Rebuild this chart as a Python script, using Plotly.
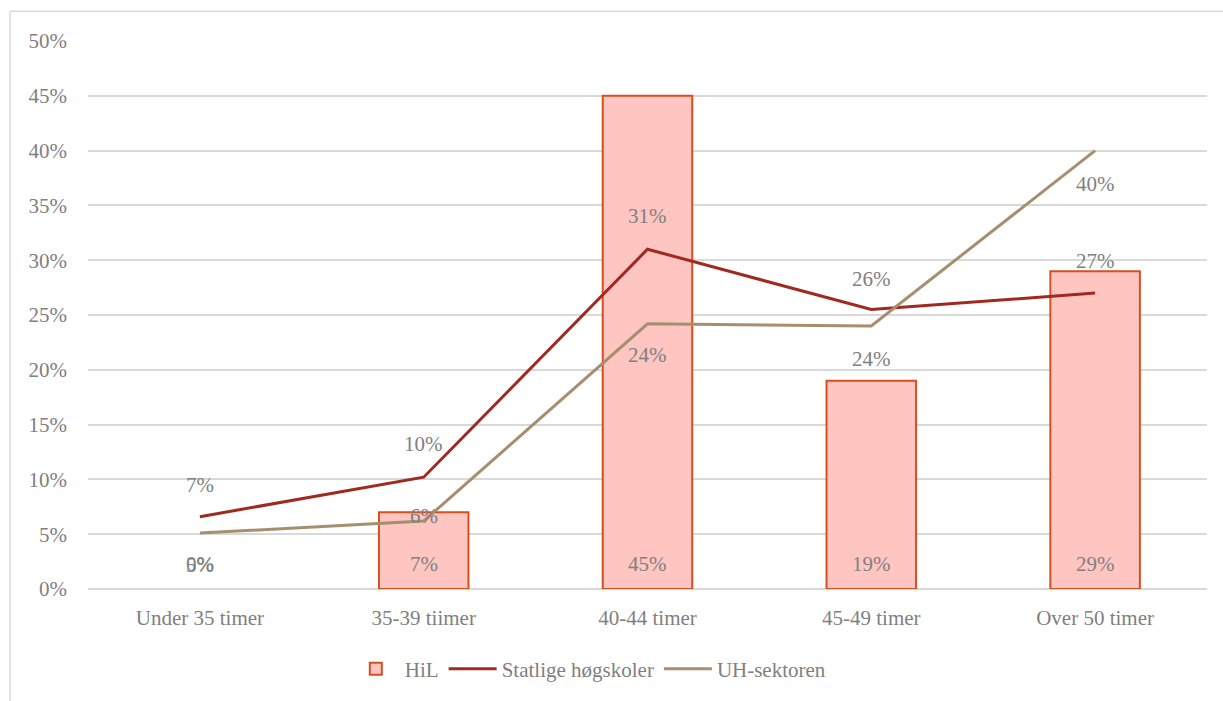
import plotly.graph_objects as go

categories = ["Under 35 timer", "35-39 tiimer", "40-44 timer", "45-49 timer", "Over 50 timer"]
hil = [0, 7, 45, 19, 29]
statlige = [6.6, 10.2, 31.0, 25.5, 27.0]
uh = [5.1, 6.2, 24.2, 24.0, 40.0]
y_ticks = [0, 5, 10, 15, 20, 25, 30, 35, 40, 45, 50]

# label offsets (styling, px)
statlige_shift = [32, 33, 33, 31, 32]
uh_shift = [-32, 5, -31, -33, -33]
hil_shift = [25, 25, 25, 25, 25]

FONT = "Liberation Serif"
FS = 21
GRAY = "#808080"
RED = "#A02A1F"
TAN = "#A68F6E"
BAR_FILL = "#FFC5C1"
BAR_LINE = "#D6501F"

fig = go.Figure()
fig.add_trace(go.Bar(
    x=categories, y=hil, name="HiL", width=0.40, showlegend=False,
    marker=dict(color=BAR_FILL,
                line=dict(color=BAR_LINE, width=[0 if v == 0 else 2 for v in hil])),
))
# legend entry for the bars (no data)
fig.add_trace(go.Bar(
    x=[None], y=[None], name="HiL", showlegend=True,
    marker=dict(color=BAR_FILL, line=dict(color=BAR_LINE, width=2)),
))
fig.add_trace(go.Scatter(
    x=categories, y=statlige, name="Statlige høgskoler", mode="lines",
    line=dict(color=RED, width=3),
))
fig.add_trace(go.Scatter(
    x=categories, y=uh, name="UH-sektoren", mode="lines",
    line=dict(color=TAN, width=3),
))

anns = []
for c, v, s in zip(categories, hil, hil_shift):
    anns.append(dict(x=c, y=0, yshift=s, text=f"{round(v)}%", showarrow=False,
                     font=dict(family=FONT, size=FS, color=GRAY)))
for c, v, s in zip(categories, statlige, statlige_shift):
    anns.append(dict(x=c, y=v, yshift=s, text=f"{round(v)}%", showarrow=False,
                     font=dict(family=FONT, size=FS, color=GRAY)))
for c, v, s in zip(categories, uh, uh_shift):
    anns.append(dict(x=c, y=v, yshift=s, text=f"{round(v)}%", showarrow=False,
                     font=dict(family=FONT, size=FS, color=GRAY)))

fig.update_layout(
    width=1223, height=701,
    margin=dict(l=88, r=16, t=41, b=109),
    paper_bgcolor="white", plot_bgcolor="white",
    font=dict(family=FONT, size=FS, color=GRAY),
    showlegend=True,
    barmode="overlay",
    legend=dict(orientation="h", x=0.448, xanchor="center", y=-0.146, yanchor="middle",
                font=dict(family=FONT, size=FS, color=GRAY), itemwidth=48,
                traceorder="normal"),
    annotations=anns,
    shapes=[
        dict(type="line", xref="paper", yref="paper", x0=-0.0697, x1=1.2, y0=1.0544, y1=1.0544,
             line=dict(color="#D9D9D9", width=1.5)),
        dict(type="line", xref="paper", yref="paper", x0=-0.0697, x1=-0.0697, y0=1.0544, y1=-0.3,
             line=dict(color="#D9D9D9", width=1.5)),
    ],
)
fig.update_xaxes(showgrid=False, showline=False, ticks="", ticklabelstandoff=14,
                 tickfont=dict(family=FONT, size=FS, color=GRAY))
fig.update_yaxes(range=[0, 50], tickvals=y_ticks, ticktext=[f"{t}%" for t in y_ticks],
                 showgrid=True, gridcolor="#D9D9D9", gridwidth=1.5, zeroline=True,
                 zerolinecolor="#D9D9D9", zerolinewidth=1.5, ticks="", ticklabelstandoff=20,
                 tickfont=dict(family=FONT, size=FS, color=GRAY))

fig.write_html("out.html")
